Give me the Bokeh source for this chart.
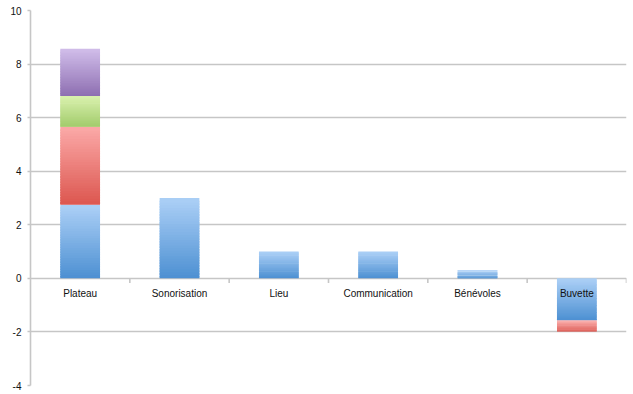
from bokeh.plotting import figure
from bokeh.models import FixedTicker, Range1d, ColumnDataSource
from bokeh.core.properties import value
from bokeh.embed import file_html
from bokeh.resources import INLINE

categories = ["Plateau", "Sonorisation", "Lieu", "Communication", "Bénévoles", "Buvette"]
series_blue = [2.75, 3.0, 1.0, 1.0, 0.3, -1.57]
series_red = [2.91, 0.0, 0.0, 0.0, 0.0, -0.41]
series_green = [1.15, 0.0, 0.0, 0.0, 0.0, 0.0]
series_purple = [1.76, 0.0, 0.0, 0.0, 0.0, 0.0]
y_ticks = [-4, -2, 0, 2, 4, 6, 8, 10]
y_tick_labels = ["-4", "-2", "0", "2", "4", "6", "8", "10"]

# (top colour, bottom colour) of each series' gradient
series = [
    (series_blue, "#abcff6", "#4a8ed1"),
    (series_red, "#fba8a6", "#db544d"),
    (series_green, "#d9f1ad", "#a0ca6a"),
    (series_purple, "#d0bce9", "#8c6db0"),
]


def hex2rgb(h):
    return tuple(int(h[i:i + 2], 16) for i in (1, 3, 5))


def mix(c_bot, c_top, f):
    a, b = hex2rgb(c_bot), hex2rgb(c_top)
    return "#%02x%02x%02x" % tuple(round(a[k] + (b[k] - a[k]) * f) for k in range(3))


N = 30
xs, bots, tops, cols = [], [], [], []
for i, cat in enumerate(categories):
    pos, neg = 0.0, 0.0
    for vals, ctop, cbot in series:
        v = vals[i]
        if v == 0:
            continue
        if v > 0:
            lo, hi = pos, pos + v
            pos = hi
        else:
            lo, hi = neg + v, neg
            neg = lo
        step = (hi - lo) / N
        for k in range(N):
            b = lo + step * k
            t = lo + step * (k + 1)
            if k > 0:
                b -= step * 0.7
            xs.append(i + 0.5)
            bots.append(b)
            tops.append(t)
            cols.append(mix(cbot, ctop, (k + 0.5) / N))

src = ColumnDataSource(dict(x=xs, bottom=bots, top=tops, color=cols))

p = figure(width=633, height=394, output_backend="svg", toolbar_location=None,
           x_range=Range1d(0, len(categories)), y_range=Range1d(-4, 10),
           x_axis_location=None, min_border_left=30, min_border_right=7,
           min_border_top=10, min_border_bottom=9)
p.outline_line_color = None
p.background_fill_color = "white"
p.xgrid.visible = False
p.ygrid.grid_line_color = "#c6c6c6"
p.ygrid.grid_line_width = 1.6

p.yaxis.ticker = FixedTicker(ticks=y_ticks)
p.yaxis.major_label_overrides = {t: s for t, s in zip(y_ticks, y_tick_labels)}
p.yaxis.axis_line_color = "#c6c6c6"
p.yaxis.axis_line_width = 1.6
p.yaxis.major_tick_line_color = "#c6c6c6"
p.yaxis.major_tick_line_width = 1.6
p.yaxis.major_tick_out = 3
p.yaxis.major_tick_in = 0
p.yaxis.minor_tick_line_color = None
p.yaxis.major_label_standoff = 6
p.yaxis.major_label_text_font = "Liberation Sans"
p.yaxis.major_label_text_font_size = "10px"
p.yaxis.major_label_text_color = "#111111"

p.vbar(x="x", bottom="bottom", top="top", width=0.4, fill_color="color",
       line_color=None, source=src)

# category boundary ticks on the zero line
bx = list(range(1, len(categories) + 1))
p.segment(x0=bx, x1=bx, y0=[0] * len(bx), y1=[-0.17] * len(bx),
          line_color="#c6c6c6", line_width=1.6)

p.text(x=[i + 0.5 for i in range(len(categories))], y=[0] * len(categories),
       text=categories, text_align="center", text_baseline="middle", y_offset=15,
       text_font=value("Liberation Sans"), text_font_size="10px", text_color="#111111")

open("out.html", "w").write(file_html(p, INLINE))
